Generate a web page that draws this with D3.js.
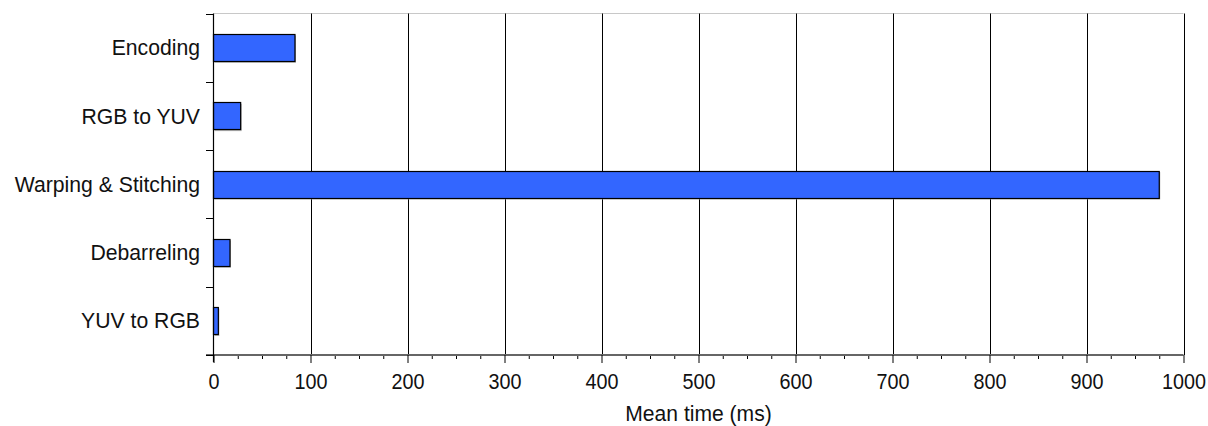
<!DOCTYPE html>
<html>
<head>
<meta charset="utf-8">
<script src="https://cdn.jsdelivr.net/npm/d3@7"></script>
<style>
  html, body { margin: 0; padding: 0; background: #fff; }
  svg { display: block; }
  text { font-family: "Liberation Sans", Arial, sans-serif; fill: #111; }
</style>
</head>
<body>
<svg id="chart" width="1208" height="426"></svg>
<script>
const categories = ["Encoding", "RGB to YUV", "Warping & Stitching", "Debarreling", "YUV to RGB"];
const meanTimes = [84, 28, 975, 17, 5];
const xTickValues = [0, 100, 200, 300, 400, 500, 600, 700, 800, 900, 1000];
const xLabel = "Mean time (ms)";

const svg = d3.select("#chart");
const pLeft = 213.5, pRight = 1183.5, pTop = 13.5, pBottom = 355;
const stretch = 1.08;

const x = d3.scaleLinear().domain([0, 1000]).range([pLeft, pRight]);
const yBand = d3.scaleBand().domain(categories).range([pTop, pBottom]).paddingInner(0.6).paddingOuter(0.3);
const yCell = d3.scaleBand().domain(categories).range([pTop, pBottom]).padding(0);

// top border
svg.append("line").attr("x1", pLeft).attr("x2", pRight).attr("y1", pTop).attr("y2", pTop)
  .attr("stroke", "#c8c8c8").attr("stroke-width", 1);

// vertical gridlines
svg.append("g").selectAll("line").data(xTickValues.filter(d => d > 0)).join("line")
  .attr("x1", d => Math.round(x(d)) + 0.5).attr("x2", d => Math.round(x(d)) + 0.5)
  .attr("y1", pTop).attr("y2", pBottom)
  .attr("stroke", "#000").attr("stroke-width", 1);

// bars (with subtle shadow)
const data = categories.map((c, i) => ({c, v: meanTimes[i]}));
svg.append("g").selectAll("rect").data(data).join("rect")
  .attr("x", x(0) + 1).attr("y", d => yBand(d.c) + 1.5)
  .attr("width", d => x(d.v) - x(0)).attr("height", yBand.bandwidth())
  .attr("fill", "#b0b0b0");
svg.append("g").selectAll("rect").data(data).join("rect")
  .attr("x", x(0)).attr("y", d => Math.round(yBand(d.c)) + 0.5)
  .attr("width", d => x(d.v) - x(0)).attr("height", Math.round(yBand.bandwidth()))
  .attr("fill", "#3366ff").attr("stroke", "#000").attr("stroke-width", 1.2);

// minor x ticks
const minor = d3.range(0, 1001, 25).filter(d => d % 100 !== 0);
svg.append("g").attr("transform", `translate(0,${pBottom})`)
  .call(d3.axisBottom(x).tickValues(minor).tickSize(4).tickFormat(""))
  .call(g => g.select(".domain").remove())
  .call(g => g.selectAll("line").attr("stroke", "#000"));

// x axis line
svg.append("line").attr("x1", 206).attr("x2", pRight).attr("y1", pBottom).attr("y2", pBottom)
  .attr("stroke", "#666").attr("stroke-width", 2);

// major x ticks + labels
const xAxis = svg.append("g").attr("transform", `translate(0,${pBottom})`)
  .call(d3.axisBottom(x).tickValues(xTickValues).tickSize(8).tickFormat(d3.format("d")))
  .call(g => g.select(".domain").remove());
xAxis.selectAll("line").attr("stroke", "#000").attr("y1", 0);
xAxis.selectAll("text")
  .attr("y", 0).attr("dy", 0)
  .attr("transform", `translate(0,${388.5 - pBottom}) scale(1,${stretch})`)
  .style("font-size", "19.8px").attr("fill", "#111")
  .style("font-family", '"Liberation Sans", Arial, sans-serif');

// y axis line
svg.append("line").attr("x1", pLeft).attr("x2", pLeft).attr("y1", pTop).attr("y2", pBottom + 7)
  .attr("stroke", "#000").attr("stroke-width", 1.2);

// y boundary ticks
const bounds = categories.map(c => yCell(c)).concat([pBottom]);
svg.append("g").selectAll("line").data(bounds).join("line")
  .attr("x1", 206).attr("x2", pLeft).attr("y1", d => Math.round(d) + 0.5).attr("y2", d => Math.round(d) + 0.5)
  .attr("stroke", "#000").attr("stroke-width", 1);

// y labels
svg.append("g").selectAll("text").data(categories).join("text")
  .attr("transform", d => `translate(200,${yCell(d) + yCell.bandwidth() / 2 + 7.6}) scale(1,${stretch})`)
  .attr("text-anchor", "end")
  .style("font-size", "21.2px").text(d => d);

// x label
svg.append("text")
  .attr("transform", `translate(${(pLeft + pRight) / 2},421) scale(1,${stretch})`)
  .attr("text-anchor", "middle").style("font-size", "21.1px").text(xLabel);
</script>
</body>
</html>
